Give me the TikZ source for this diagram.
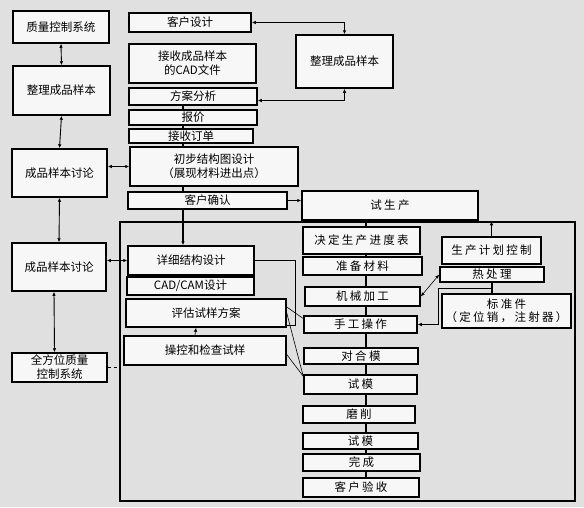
\documentclass[tikz,border=0pt]{standalone}
\usepackage{fontspec}
\setmainfont{Noto Sans CJK SC}
\newfontfamily\widefont[LetterSpace=20]{Noto Sans CJK SC}
\usetikzlibrary{calc,arrows.meta}

\begin{document}
\begin{tikzpicture}[x=1pt,y=-1pt,
  >={Latex[length=4pt,width=3.5pt]},
  pbox/.style={draw,line width=1.5pt,fill=black!3,inner sep=0pt,align=center,font=\fontsize{11.5}{14}\selectfont},
  sbox/.style={pbox,font=\widefont\fontsize{11.5}{13.5}\selectfont},
  link/.style={line width=0.9pt},
  spine/.style={line width=1.5pt},
  hair/.style={line width=0.6pt}]
\fill[black!12] (0,0) rectangle (584,507);
\useasboundingbox (0,0) rectangle (584,507);
% frame round the trial production
\node[draw,line width=1.5pt,inner sep=0pt,minimum width=455,minimum height=279] (rq) at (347.5,361.5) {};
% left column
\foreach \n/\x/\y/\w/\h/\t in {zk/61/27/96/32/{质量控制系统}, zl/61.5/90.5/97/49/{整理成品样本}, tl/59.5/173/95/48/{成品样本讨论}, tm/59/267/94/48/{成品样本讨论}, qq/59.5/367.5/95/29/{全方位质量\\控制系统}}
  { \node[pbox,minimum width=\w,minimum height=\h] (\n) at (\x,\y) {\t}; }
% middle column
\foreach \n/\x/\y/\w/\h/\t in {kh/190/22.5/122/19/{客户设计}, js/192.5/63.5/127/39/{接收成品样本\\的CAD文件}, fa/193/96.5/128/17/{方案分析}, bj/193/117.5/128/15/{报价}, jd/191/136/124/14/{接收订单}, cb/214/166.5/168/39/{初步结构图设计\\（展现材料进出点）}, kq/207.5/200.5/159/17/{客户确认}, xx/191/260.5/126/29/{详细结构设计}, cc/190.5/286/127/18/{CAD/CAM设计}, pg/206/313/160/28/{评估试样方案}, ck/205/350.5/162/29/{操控和检查试样}, zr/344.5/61.5/97/53/{整理成品样本}}
  { \node[pbox,minimum width=\w,minimum height=\h] (\n) at (\x,\y) {\t}; }
% production steps
\foreach \n/\x/\y/\w/\h/\t in {ss/390/205.5/176/29/{试生产}, dt/361.5/240.5/117/27/{决定生产进度表}, zb/362.5/266/119/18/{准备材料}, jx/362.5/296.5/115/19/{机械加工}, sg/360.5/324.5/113/17/{手工操作}, dh/361/356/114/16/{对合模}, sm/360.5/384.5/113/19/{试模}, mx/359/414.5/112/17/{磨削}, sn/360.5/441/115/16/{试模}, wc/361.5/462.5/117/17/{完成}, ky/361/487.5/116/19/{客户验收}, jh/491.5/250.5/99/27/{生产计划控制}, rc/492/274.5/104/15/{热处理}, bz/506.5/311/129/34/{标准件\\（定位销，注射器）}}
  { \node[sbox,minimum width=\w,minimum height=\h] (\n) at (\x,\y) {\t}; }
% left column links
\draw[<->,link] (zk.south) -- (zl.north);
\draw[<->,link] (zl.south) -- (tl.north);
\draw[<->,link] (tl.south) -- (tm.north);
\draw[<->,link] ([xshift=-5pt]tm.south) -- ([xshift=-5pt]qq.north);
\draw[<->,link] (tl.east |- cb.west) -- (cb.west);
\draw[<->,link] (tm.east |- xx.west) -- (xx.west);
\draw[dashed,hair] (qq.east) -- (qq.east -| rq.west);
% loop to the sample box
\draw[<->,link] (kh.east) -| (zr.north);
\draw[<->,link] ([yshift=-4pt]fa.east) -| (zr.south);
% main line
\coordinate (sp) at (183,0);
\foreach \a/\b in {fa/bj,bj/jd,jd/cb,cb/kq} { \draw[spine] (\a.south -| sp) -- (\b.north -| sp); }
\draw[spine,->] (kq.south -| sp) -- (xx.north -| sp);
\draw[->,link] (kq.east) -- (kq.east -| ss.west);
\coordinate (sq) at (366,0);
\foreach \a/\b in {ss/dt,dt/zb,zb/jx,jx/sg,sg/dh,dh/sm,sm/mx,mx/sn,sn/wc,wc/ky} { \draw[spine] (\a.south -| sq) -- (\b.north -| sq); }
% right side
\draw[->,hair] (jh.north) -- (jh.north |- rq.north);
\draw[<->,hair] (jx.east) -- (rc.west);
\draw[spine] (rc.south) -- (rc.south |- bz.north);
\coordinate (jn) at ($(rc.south)!0.5!(rc.south |- bz.north)$);
\draw[->,hair] (jn) -| ([xshift=21pt]sg.east) -- (sg.east);
% thin lines from the design boxes
\draw[hair] (xx.east) -| ([xshift=9pt,yshift=2pt]pg.south east) -- ([yshift=2pt]pg.south east);
\draw[hair] ([yshift=6pt]pg.east) -- ([yshift=6pt]sg.west);
\draw[hair] (pg.east) -- ([yshift=-2pt]sm.north west);
\draw[hair] ([yshift=-4pt]ck.east) -- ([yshift=-2pt]sm.north west);
\draw[->,hair] ([xshift=-10pt]ck.north) -- ([xshift=-10pt]pg.south);
\end{tikzpicture}
\end{document}
